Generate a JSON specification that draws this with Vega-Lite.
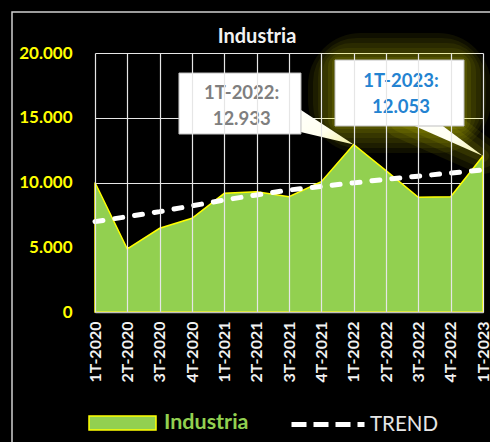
{
  "$schema": "https://vega.github.io/schema/vega-lite/v6.json",
  "autosize": "none",
  "width": 388,
  "height": 259,
  "padding": {"left": 95, "top": 53, "right": 7, "bottom": 130},
  "background": "black",
  "config": {
    "view": {"stroke": null},
    "font": "Lato",
    "locale": {"number": {"decimal": ",", "thousands": ".", "grouping": [3], "currency": ["", " €"]}}
  },
  "title": {"text": "Industria", "color": "#F2F2F2", "font": "Lato", "fontSize": 20, "fontWeight": "bold", "anchor": "middle", "frame": "group", "dx": -32, "offset": -36},
  "data": {"values": [
    {"quarter": "1T-2020", "Industria": 10000, "TREND": 6980},
    {"quarter": "2T-2020", "Industria": 4865, "TREND": 7360},
    {"quarter": "3T-2020", "Industria": 6463, "TREND": 7750},
    {"quarter": "4T-2020", "Industria": 7236, "TREND": 8200},
    {"quarter": "1T-2021", "Industria": 9166, "TREND": 8650},
    {"quarter": "2T-2021", "Industria": 9290, "TREND": 9040},
    {"quarter": "3T-2021", "Industria": 8903, "TREND": 9420},
    {"quarter": "4T-2021", "Industria": 10062, "TREND": 9700},
    {"quarter": "1T-2022", "Industria": 12933, "TREND": 9970},
    {"quarter": "2T-2022", "Industria": 10911, "TREND": 10250},
    {"quarter": "3T-2022", "Industria": 8857, "TREND": 10490},
    {"quarter": "4T-2022", "Industria": 8903, "TREND": 10730},
    {"quarter": "1T-2023", "Industria": 12053, "TREND": 10965}
  ]},
  "encoding": {
    "x": {
      "field": "quarter", "type": "ordinal", "sort": null, "title": null,
      "scale": {"type": "point", "padding": 0,
                "domain": ["1T-2020", "2T-2020", "3T-2020", "4T-2020", "1T-2021", "2T-2021", "3T-2021", "4T-2021", "1T-2022", "2T-2022", "3T-2022", "4T-2022", "1T-2023"]},
      "axis": {
        "labelAngle": -90, "labelColor": "#F2F2F2", "labelFont": "Lato", "labelFontWeight": "bold",
        "labelFontSize": 16, "labelPadding": 9, "ticks": false,
        "domainColor": "#BFBFBF", "domainWidth": 1.5,
        "grid": true, "gridColor": "#E6E6E6", "gridWidth": 1.2
      }
    }
  },
  "layer": [
    {
      "transform": [{"filter": "datum.quarter == '1T-2020'"}],
      "mark": {"type": "rect", "fillOpacity": 0, "stroke": "#D0D0D0", "strokeWidth": 1.5,
               "xOffset": -83, "x2Offset": 420, "yOffset": -41, "y2Offset": 200, "clip": false},
      "encoding": {
        "x2": {"field": "quarter"},
        "y": {"datum": 20000, "type": "quantitative"},
        "y2": {"datum": 0}
      }
    },
    {
      "transform": [{"filter": "datum.quarter == '1T-2023'"}],
      "mark": {"type": "rect", "fillOpacity": 0, "stroke": "#FFFF00", "strokeOpacity": 0.06, "strokeWidth": 54, "cornerRadius": 26,
               "xOffset": -148, "x2Offset": -19, "yOffset": -95.9, "y2Offset": -29.9},
      "encoding": {"x2": {"field": "quarter"}, "y": {"field": "Industria", "type": "quantitative", "title": null}, "y2": {"field": "Industria"}}
    },
    {
      "transform": [{"filter": "datum.quarter == '1T-2023'"}],
      "mark": {"type": "rect", "fillOpacity": 0, "stroke": "#FFFF00", "strokeOpacity": 0.06, "strokeWidth": 44, "cornerRadius": 22,
               "xOffset": -148, "x2Offset": -19, "yOffset": -95.9, "y2Offset": -29.9},
      "encoding": {"x2": {"field": "quarter"}, "y": {"field": "Industria", "type": "quantitative", "title": null}, "y2": {"field": "Industria"}}
    },
    {
      "transform": [{"filter": "datum.quarter == '1T-2023'"}],
      "mark": {"type": "rect", "fillOpacity": 0, "stroke": "#FFFF00", "strokeOpacity": 0.06, "strokeWidth": 34, "cornerRadius": 17,
               "xOffset": -148, "x2Offset": -19, "yOffset": -95.9, "y2Offset": -29.9},
      "encoding": {"x2": {"field": "quarter"}, "y": {"field": "Industria", "type": "quantitative", "title": null}, "y2": {"field": "Industria"}}
    },
    {
      "transform": [{"filter": "datum.quarter == '1T-2023'"}],
      "mark": {"type": "rect", "fillOpacity": 0, "stroke": "#FFFF00", "strokeOpacity": 0.06, "strokeWidth": 24, "cornerRadius": 12,
               "xOffset": -148, "x2Offset": -19, "yOffset": -95.9, "y2Offset": -29.9},
      "encoding": {"x2": {"field": "quarter"}, "y": {"field": "Industria", "type": "quantitative", "title": null}, "y2": {"field": "Industria"}}
    },
    {
      "transform": [{"filter": "datum.quarter == '1T-2023'"}],
      "mark": {"type": "rect", "fillOpacity": 0, "stroke": "#FFFF00", "strokeOpacity": 0.07, "strokeWidth": 14, "cornerRadius": 7,
               "xOffset": -148, "x2Offset": -19, "yOffset": -95.9, "y2Offset": -29.9},
      "encoding": {"x2": {"field": "quarter"}, "y": {"field": "Industria", "type": "quantitative", "title": null}, "y2": {"field": "Industria"}}
    },
    {
      "transform": [{"filter": "datum.quarter == '1T-2023'"}],
      "mark": {"type": "rect", "fillOpacity": 0, "stroke": "#FFFF00", "strokeOpacity": 0.08, "strokeWidth": 6, "cornerRadius": 3,
               "xOffset": -148, "x2Offset": -19, "yOffset": -95.9, "y2Offset": -29.9},
      "encoding": {"x2": {"field": "quarter"}, "y": {"field": "Industria", "type": "quantitative", "title": null}, "y2": {"field": "Industria"}}
    },
    {
      "transform": [{"filter": "datum.quarter == '1T-2023'"}],
      "mark": {"type": "point", "filled": false, "opacity": 1, "stroke": "#FFFF00", "strokeOpacity": 0.07, "strokeWidth": 36, "strokeJoin": "round",
               "shape": "M0,0L-1.365,-0.6L-0.803,-0.6Z", "size": 14400},
      "encoding": {"y": {"field": "Industria", "type": "quantitative", "title": null}}
    },
    {
      "transform": [{"filter": "datum.quarter == '1T-2023'"}],
      "mark": {"type": "point", "filled": false, "opacity": 1, "stroke": "#FFFF00", "strokeOpacity": 0.07, "strokeWidth": 24, "strokeJoin": "round",
               "shape": "M0,0L-1.365,-0.6L-0.803,-0.6Z", "size": 14400},
      "encoding": {"y": {"field": "Industria", "type": "quantitative", "title": null}}
    },
    {
      "transform": [{"filter": "datum.quarter == '1T-2023'"}],
      "mark": {"type": "point", "filled": false, "opacity": 1, "stroke": "#FFFF00", "strokeOpacity": 0.08, "strokeWidth": 12, "strokeJoin": "round",
               "shape": "M0,0L-1.365,-0.6L-0.803,-0.6Z", "size": 14400},
      "encoding": {"y": {"field": "Industria", "type": "quantitative", "title": null}}
    },
    {
      "mark": {"type": "area", "stroke": "#FFFF00", "strokeWidth": 1.5, "opacity": 1},
      "encoding": {
        "y": {
          "field": "Industria", "type": "quantitative", "title": null,
          "scale": {"domain": [0, 20000], "nice": false},
          "axis": {
            "values": [0, 5000, 10000, 15000, 20000], "format": ",d",
            "labelColor": "#FFFF00", "labelFont": "Lato", "labelFontSize": 17, "labelFontWeight": "bold",
            "labelPadding": 23, "ticks": false, "domain": false,
            "grid": true, "gridColor": "#E6E6E6", "gridWidth": 1.2
          }
        },
        "fill": {
          "datum": "Industria",
          "scale": {"range": ["#92D050"]},
          "legend": {
            "orient": "none", "legendX": -7, "legendY": 335.5, "title": null, "padding": 0,
            "symbolType": "M-1,-0.21H1V0.21H-1Z", "symbolSize": 4489,
            "symbolStrokeColor": "#FFFF00", "symbolStrokeWidth": 1.5,
            "labelColor": "#92D050", "labelFont": "Lato", "labelFontSize": 21.5, "labelFontWeight": "bold", "labelOffset": 7
          }
        }
      }
    },
    {
      "mark": {"type": "line", "strokeWidth": 5, "strokeDash": [8, 12], "strokeCap": "round"},
      "encoding": {
        "y": {"field": "TREND", "type": "quantitative", "title": null},
        "stroke": {
          "datum": "TREND",
          "scale": {"range": ["#FFFFFF"]},
          "legend": {
            "orient": "none", "legendX": 194, "legendY": 332.5, "title": null, "padding": 0,
            "symbolType": "stroke", "symbolSize": 5329, "symbolStrokeWidth": 5, "symbolDash": [15, 7],
            "labelColor": "#E6E6E6", "labelFont": "Lato", "labelFontSize": 20.5, "labelFontWeight": "normal", "labelOffset": 3
          }
        }
      }
    },
    {
      "transform": [{"filter": "datum.quarter == '1T-2022'"}],
      "mark": {"type": "point", "filled": true, "opacity": 1, "strokeWidth": 0,
               "shape": "M0,0L-1.062,-0.695L-1.062,-0.252Z", "size": 14400,
               "fill": {"gradient": "linear", "x1": 0, "y1": 0, "x2": 1, "y2": 1,
                        "stops": [{"offset": 0, "color": "#FFFFFF"}, {"offset": 0.6, "color": "#FFFFF0"}, {"offset": 1, "color": "#F2EEA0"}]}},
      "encoding": {"y": {"field": "Industria", "type": "quantitative", "title": null}}
    },
    {
      "transform": [{"filter": "datum.quarter == '1T-2023'"}],
      "mark": {"type": "point", "filled": true, "opacity": 1, "strokeWidth": 0,
               "shape": "M0,0L-1.365,-0.6L-0.803,-0.6Z", "size": 14400,
               "fill": {"gradient": "linear", "x1": 0, "y1": 0, "x2": 1, "y2": 1,
                        "stops": [{"offset": 0, "color": "#FFFFFF"}, {"offset": 0.6, "color": "#FFFFF0"}, {"offset": 1, "color": "#F2EEA0"}]}},
      "encoding": {"y": {"field": "Industria", "type": "quantitative", "title": null}}
    },
    {
      "transform": [{"filter": "datum.quarter == '1T-2022'"}],
      "mark": {"type": "rect", "fill": "#FFFFFF", "stroke": "#BFBFBF", "strokeWidth": 1,
               "xOffset": -174.7, "x2Offset": -52.7, "yOffset": -71.5, "y2Offset": -10.5},
      "encoding": {"x2": {"field": "quarter"}, "y": {"field": "Industria", "type": "quantitative", "title": null}, "y2": {"field": "Industria"}}
    },
    {
      "transform": [{"filter": "datum.quarter == '1T-2023'"}],
      "mark": {"type": "rect", "fill": "#FFFFFF", "stroke": "#BFBFBF", "strokeWidth": 1,
               "xOffset": -148, "x2Offset": -19, "yOffset": -95.9, "y2Offset": -29.9},
      "encoding": {"x2": {"field": "quarter"}, "y": {"field": "Industria", "type": "quantitative", "title": null}, "y2": {"field": "Industria"}}
    },
    {
      "transform": [{"filter": "datum.quarter == '1T-2022'"}, {"calculate": "datum.quarter + ':'", "as": "lbl"}],
      "mark": {"type": "text", "font": "Lato", "fontSize": 18.5, "fontWeight": "bold", "color": "#7F7F7F", "align": "center", "baseline": "middle", "dx": -112, "dy": -51.5},
      "encoding": {"y": {"field": "Industria", "type": "quantitative", "title": null}, "text": {"field": "lbl"}}
    },
    {
      "transform": [{"filter": "datum.quarter == '1T-2022'"}],
      "mark": {"type": "text", "font": "Lato", "fontSize": 18.5, "fontWeight": "bold", "color": "#7F7F7F", "align": "center", "baseline": "middle", "dx": -112, "dy": -25.5},
      "encoding": {"y": {"field": "Industria", "type": "quantitative", "title": null}, "text": {"field": "Industria", "type": "quantitative", "format": ",d"}}
    },
    {
      "transform": [{"filter": "datum.quarter == '1T-2023'"}, {"calculate": "datum.quarter + ':'", "as": "lbl"}],
      "mark": {"type": "text", "font": "Lato", "fontSize": 18.5, "fontWeight": "bold", "color": "#2383D1", "align": "center", "baseline": "middle", "dx": -82, "dy": -74.9},
      "encoding": {"y": {"field": "Industria", "type": "quantitative", "title": null}, "text": {"field": "lbl"}}
    },
    {
      "transform": [{"filter": "datum.quarter == '1T-2023'"}],
      "mark": {"type": "text", "font": "Lato", "fontSize": 18.5, "fontWeight": "bold", "color": "#2383D1", "align": "center", "baseline": "middle", "dx": -82, "dy": -49.2},
      "encoding": {"y": {"field": "Industria", "type": "quantitative", "title": null}, "text": {"field": "Industria", "type": "quantitative", "format": ",d"}}
    }
  ]
}
